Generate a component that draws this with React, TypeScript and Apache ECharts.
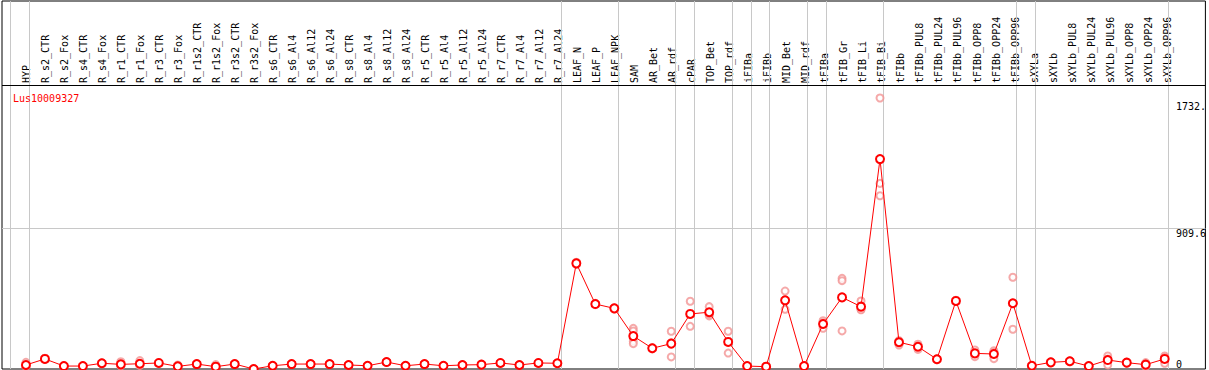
import React, { useEffect, useRef } from "react";
import * as echarts from "echarts";

const categories = [
  "HYP", "R_s2_CTR", "R_s2_Fox", "R_s4_CTR", "R_s4_Fox", "R_r1_CTR", "R_r1_Fox", "R_r3_CTR", "R_r3_Fox",
  "R_r1s2_CTR", "R_r1s2_Fox", "R_r3s2_CTR", "R_r3s2_Fox", "R_s6_CTR", "R_s6_Al4", "R_s6_Al12", "R_s6_Al24",
  "R_s8_CTR", "R_s8_Al4", "R_s8_Al12", "R_s8_Al24", "R_r5_CTR", "R_r5_Al4", "R_r5_Al12", "R_r5_Al24",
  "R_r7_CTR", "R_r7_Al4", "R_r7_Al12", "R_r7_Al24", "LEAF_N", "LEAF_P", "LEAF_NPK", "SAM", "AR_Bet", "AR_rdf",
  "cPAR", "TOP_Bet", "TOP_rdf", "iFIBa", "iFIBb", "MID_Bet", "MID_rdf", "tFIBa", "tFIB_Gr", "tFIB_Li", "tFIB_Bi",
  "tFIBb", "tFIBb_PUL8", "tFIBb_PUL24", "tFIBb_PUL96", "tFIBb_OPP8", "tFIBb_OPP24", "tFIBb_OPP96",
  "sXYLa", "sXYLb", "sXYLb_PUL8", "sXYLb_PUL24", "sXYLb_PUL96", "sXYLb_OPP8", "sXYLb_OPP24", "sXYLb_OPP96",
];

const means = [
  26, 65, 19, 19, 37, 30, 34, 39, 17,
  32, 15, 32, 0, 21, 32, 32, 32,
  26, 21, 45, 21, 32, 21, 26, 28,
  39, 26, 39, 37, 683, 420, 392, 213, 134, 164,
  356, 367, 175, 19, 15, 444, 19, 291, 463, 403, 1357,
  173, 144, 63, 440, 101, 97, 425,
  21, 43, 50, 19, 58, 41, 28, 65,
];

const replicates = [
  [43, 20, 15], [70, 62], [22, 16], [21, 17], [40, 34], [47, 22, 21], [54, 25, 23], [42, 36], [26, 12],
  [34, 30], [28, 9], [35, 29], [2, 0], [23, 19], [34, 30], [34, 30], [34, 30],
  [28, 24], [23, 19], [48, 42], [23, 19], [34, 30], [23, 19], [28, 24], [30, 26],
  [41, 37], [28, 24], [41, 37], [39, 35], [690, 676], [424, 416], [396, 388], [263, 246, 179, 164], [138, 130], [244, 78, 170],
  [438, 276, 354], [403, 343, 355], [244, 103, 178], [21, 17], [17, 13], [504, 386, 442], [21, 17], [312, 263, 298], [586, 571, 246], [440, 386, 383], [1752, 1200, 1120],
  [155, 181, 183], [160, 127, 145], [66, 60], [444, 436], [123, 80, 100], [118, 67, 106], [593, 257, 425],
  [23, 19], [46, 40], [53, 47], [21, 17], [84, 26, 64], [44, 38], [41, 15, 28], [84, 37, 74],
];

// indices of the last category of each group (-1 = before the first)
const groupEnds = [-1, 0, 28, 31, 34, 35, 37, 38, 39, 41, 42, 45, 52, 53, 60];

const yTickLabels = [909.6, 1732.4];
const yZeroLabel = [0];
const title = "Lus10009327";

const MONO = "DejaVu Sans Mono";

export default function App() {
  const ref = useRef<HTMLDivElement>(null);

  useEffect(() => {
    if (!ref.current) return;
    const chart = echarts.init(ref.current, null, { renderer: "svg" });

    const meanData = categories.map((_, i) => [i, means[i]]);
    const repData: number[][] = [];
    replicates.forEach((reps, i) => reps.forEach((v) => repData.push([i, v])));

    const sepLines = groupEnds.map((g) => ({ xAxis: g + 0.19 }));

    const option: any = {
      animation: false,
      backgroundColor: "#fff",
      title: {
        text: title,
        left: 8,
        top: 88,
        textStyle: { color: "#ff0000", fontSize: 10, fontFamily: MONO, fontWeight: "normal" },
      },
      grid: [
        { left: 2, right: 1, top: 1, bottom: 1, show: true, borderColor: "#000", borderWidth: 1, backgroundColor: "transparent" },
        { left: 6.98, right: 3.76, top: 1, height: 84 },
      ],
      xAxis: [
        {
          gridIndex: 0,
          type: "value",
          min: -1.2618,
          max: 62.145,
          axisLine: { show: false },
          axisTick: { show: false },
          axisLabel: { show: false },
          splitLine: { show: false },
        },
        {
          gridIndex: 1,
          type: "value",
          position: "bottom",
          min: -1,
          max: 62,
          interval: 1,
          axisLine: { show: false },
          axisTick: { show: false },
          splitLine: { show: false },
          axisLabel: {
            inside: true,
            rotate: 90,
            margin: 2,
            fontFamily: MONO,
            fontSize: 10,
            color: "#000",
            formatter: (v: number) => categories[Math.round(v)] ?? "",
          },
        },
      ],
      yAxis: [
        {
          gridIndex: 0,
          type: "value",
          position: "right",
          min: 0,
          max: 2379,
          axisLine: { show: false },
          axisTick: { show: false },
          splitLine: { show: false },
          axisLabel: {
            customValues: yTickLabels,
            inside: true,
            align: "left",
            verticalAlign: "top",
            margin: 29.5,
            fontFamily: MONO,
            fontSize: 10,
            color: "#000",
            formatter: (v: number) => String(v).slice(0, 5),
          },
        },
        {
          gridIndex: 0,
          type: "value",
          position: "right",
          min: 0,
          max: 2379,
          axisLine: { show: false },
          axisTick: { show: false },
          splitLine: { show: false },
          axisLabel: {
            customValues: yZeroLabel,
            inside: true,
            align: "left",
            verticalAlign: "bottom",
            margin: 29.5,
            fontFamily: MONO,
            fontSize: 10,
            color: "#000",
            formatter: (v: number) => String(v).slice(0, 5),
          },
        },
        { gridIndex: 1, type: "value", show: false, min: 0, max: 1 },
      ],
      series: [
        {
          type: "scatter",
          xAxisIndex: 0,
          yAxisIndex: 0,
          data: repData,
          symbol: "emptyCircle",
          symbolSize: 7,
          itemStyle: { color: "#f29494", borderColor: "#f29494", borderWidth: 1.1 },
          silent: true,
          z: 2,
          markLine: {
            silent: true,
            symbol: "none",
            label: { show: false },
            lineStyle: { color: "#c8c8c8", width: 1, type: "solid" },
            data: [...sepLines, { yAxis: 909.6 }],
            z: 1,
          },
        },
        {
          type: "line",
          xAxisIndex: 0,
          yAxisIndex: 0,
          data: meanData,
          symbol: "emptyCircle",
          symbolSize: 8,
          showAllSymbol: true,
          lineStyle: { color: "#ff0000", width: 1 },
          itemStyle: { color: "#ff0000", borderColor: "#ff0000", borderWidth: 1.3 },
          silent: true,
          z: 3,
          markLine: {
            silent: true,
            symbol: "none",
            label: { show: false },
            lineStyle: { color: "#000", width: 1, type: "solid" },
            data: [{ yAxis: 1836 }],
          },
        },
      ],
    };

    chart.setOption(option);
    return () => chart.dispose();
  }, []);

  return <div ref={ref} style={{ position: "fixed", left: 0, top: 0, width: 1209, height: 370 }} />;
}
